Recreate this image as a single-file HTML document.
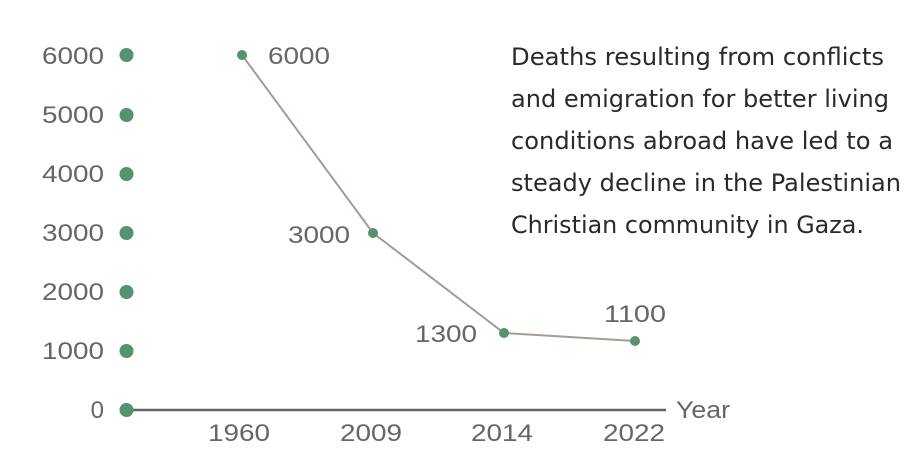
<!DOCTYPE html>
<html><head><meta charset="utf-8"><style>html,body{margin:0;padding:0;background:#fff;width:922px;height:470px;overflow:hidden}</style></head>
<body>
<svg width="922" height="470" xmlns="http://www.w3.org/2000/svg" font-family="'Liberation Sans', sans-serif">
<g fill="#666" font-size="24" text-anchor="end">
<text x="104" y="64" textLength="62" lengthAdjust="spacingAndGlyphs">6000</text>
<text x="104" y="123" textLength="62" lengthAdjust="spacingAndGlyphs">5000</text>
<text x="104" y="182" textLength="62" lengthAdjust="spacingAndGlyphs">4000</text>
<text x="104" y="241" textLength="62" lengthAdjust="spacingAndGlyphs">3000</text>
<text x="104" y="300" textLength="62" lengthAdjust="spacingAndGlyphs">2000</text>
<text x="104" y="359" textLength="62" lengthAdjust="spacingAndGlyphs">1000</text>
<text x="104" y="418">0</text>
</g>
<line x1="126" y1="410" x2="666" y2="410" stroke="#666" stroke-width="2.5"/>
<g fill="#55936f">
<circle cx="126.5" cy="55" r="7"/><circle cx="126.5" cy="115" r="7"/><circle cx="126.5" cy="174" r="7"/>
<circle cx="126.5" cy="233" r="7"/><circle cx="126.5" cy="292" r="7"/><circle cx="126.5" cy="351" r="7"/><circle cx="126.5" cy="410" r="7"/>
</g>
<polyline points="242,55 373,233 504,333 635,341" fill="none" stroke="#a89a94" stroke-width="2"/>
<g fill="#55936f">
<circle cx="242" cy="55" r="5"/><circle cx="373" cy="233" r="5"/><circle cx="504" cy="333" r="5"/><circle cx="635" cy="341" r="5"/>
</g>
<g fill="#666" font-size="24">
<text x="268" y="64" textLength="62" lengthAdjust="spacingAndGlyphs">6000</text>
<text x="288" y="243" textLength="62" lengthAdjust="spacingAndGlyphs">3000</text>
<text x="415" y="342" textLength="62" lengthAdjust="spacingAndGlyphs">1300</text>
<text x="604" y="322" textLength="62" lengthAdjust="spacingAndGlyphs">1100</text>
<text x="676" y="418" textLength="54" lengthAdjust="spacingAndGlyphs">Year</text>
</g>
<g fill="#666" font-size="24">
<text x="208" y="441" textLength="62" lengthAdjust="spacingAndGlyphs">1960</text>
<text x="340" y="441" textLength="62" lengthAdjust="spacingAndGlyphs">2009</text>
<text x="471" y="441" textLength="62" lengthAdjust="spacingAndGlyphs">2014</text>
<text x="603" y="441" textLength="62" lengthAdjust="spacingAndGlyphs">2022</text>
</g>
<g fill="#2a2a2a" font-size="24" font-family="'DejaVu Sans', 'Liberation Sans', sans-serif">
<text x="511" y="65" textLength="373" lengthAdjust="spacingAndGlyphs">Deaths resulting from conflicts</text>
<text x="511" y="107" textLength="378" lengthAdjust="spacingAndGlyphs">and emigration for better living</text>
<text x="511" y="149" textLength="382" lengthAdjust="spacingAndGlyphs">conditions abroad have led to a</text>
<text x="511" y="191" textLength="390" lengthAdjust="spacingAndGlyphs">steady decline in the Palestinian</text>
<text x="511" y="233" textLength="353" lengthAdjust="spacingAndGlyphs">Christian community in Gaza.</text>
</g>
</svg>
</body></html>
